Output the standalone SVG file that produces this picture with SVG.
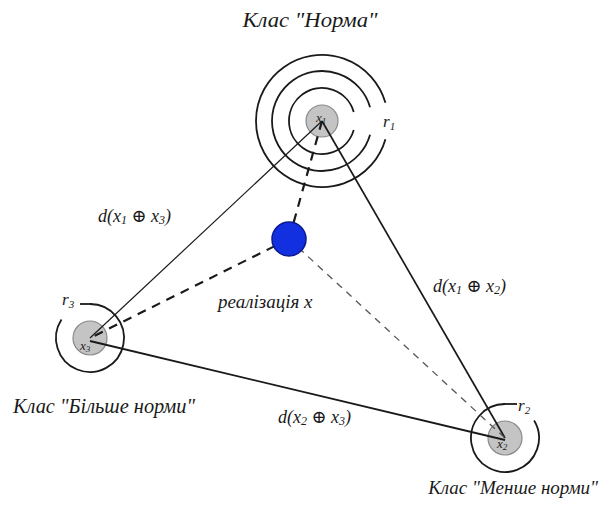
<svg xmlns="http://www.w3.org/2000/svg" width="603" height="510" viewBox="0 0 603 510">
<style>
.t{font-style:italic;fill:#1a1a1a}
.ring{fill:none;stroke:#1a1a1a;stroke-width:1.8}
.core{fill:#c4c4c4;stroke:#8a8a8a;stroke-width:1.2}
.solid{stroke:#1a1a1a;fill:none}
.dash{stroke:#1a1a1a;stroke-width:2.2;stroke-dasharray:9 7;fill:none}
.dash2{stroke:#555;stroke-width:1.3;stroke-dasharray:7 6;fill:none}
</style>
<rect width="603" height="510" fill="#fff"/>
<g font-family="Liberation Serif, DejaVu Serif, serif">
<g id="node-x1">
<path class="ring" d="M353.72,130.09 A33,33 0 1 1 353.72,111.91"/>
<path class="ring" d="M370.06,134.78 A50,50 0 1 1 370.06,107.22"/>
<path class="ring" d="M385.44,139.19 A66,66 0 1 1 385.44,102.81"/>
<circle class="core" cx="322" cy="121" r="16"/>
<text class="t" x="316" y="122" font-size="13">x<tspan font-size="9" dy="2">1</tspan></text>
<text class="t" x="383" y="127" font-size="17">r<tspan font-size="11" dy="3">1</tspan></text>
<text class="t" x="310" y="27" font-size="20" text-anchor="middle" textLength="135" lengthAdjust="spacingAndGlyphs">Клас "Норма"</text>
</g>
<g id="node-x3">
<path class="ring" d="M90,304 A34,34 0 1 1 61.48,319.48"/>
<path class="ring" d="M80,304 L92,304"/>
<circle class="core" cx="90" cy="338" r="17"/>
<text class="t" x="80" y="350" font-size="13">x<tspan font-size="9" dy="2">3</tspan></text>
<text class="t" x="62" y="305" font-size="17">r<tspan font-size="11" dy="3">3</tspan></text>
<text class="t" x="13" y="413" font-size="20" textLength="182" lengthAdjust="spacingAndGlyphs">Клас "Більше норми"</text>
</g>
<g id="node-x2">
<path class="ring" d="M505,404 A34,34 0 1 0 534.14,420.49"/>
<path class="ring" d="M503,404 L517,404"/>
<circle class="core" cx="505" cy="438" r="17"/>
<text class="t" x="497" y="448" font-size="13">x<tspan font-size="9" dy="2">2</tspan></text>
<text class="t" x="518" y="411" font-size="17">r<tspan font-size="11" dy="3">2</tspan></text>
<text class="t" x="598" y="494" font-size="19" text-anchor="end">Клас "Менше норми"</text>
</g>
<g id="connectors">
<line class="solid" x1="322" y1="121" x2="90" y2="338" stroke-width="1.2"/>
<line class="solid" x1="322" y1="121" x2="505" y2="438" stroke-width="1.7"/>
<line class="solid" x1="90" y1="341" x2="505" y2="440" stroke-width="1.8"/>
<line class="dash" x1="322" y1="121" x2="289" y2="239"/>
<line class="dash" x1="289" y1="239" x2="90" y2="338"/>
<line class="dash2" x1="289" y1="239" x2="505" y2="438"/>
</g>
<g id="node-x">
<circle cx="289" cy="239" r="17" fill="#1230e0" stroke="#0a1a90" stroke-width="1.5"/>
<text class="t" x="218" y="308" font-size="19">реалізація x</text>
</g>
<g id="labels">
<text class="t" x="98" y="222" font-size="18">d(x<tspan font-size="12" dy="2">1</tspan><tspan dy="-2"> ⊕ </tspan>x<tspan font-size="12" dy="2">3</tspan><tspan dy="-2">)</tspan></text>
<text class="t" x="433" y="292" font-size="18">d(x<tspan font-size="12" dy="2">1</tspan><tspan dy="-2"> ⊕ </tspan>x<tspan font-size="12" dy="2">2</tspan><tspan dy="-2">)</tspan></text>
<text class="t" x="278" y="423" font-size="18">d(x<tspan font-size="12" dy="2">2</tspan><tspan dy="-2"> ⊕ </tspan>x<tspan font-size="12" dy="2">3</tspan><tspan dy="-2">)</tspan></text>
</g>
</g>
</svg>
